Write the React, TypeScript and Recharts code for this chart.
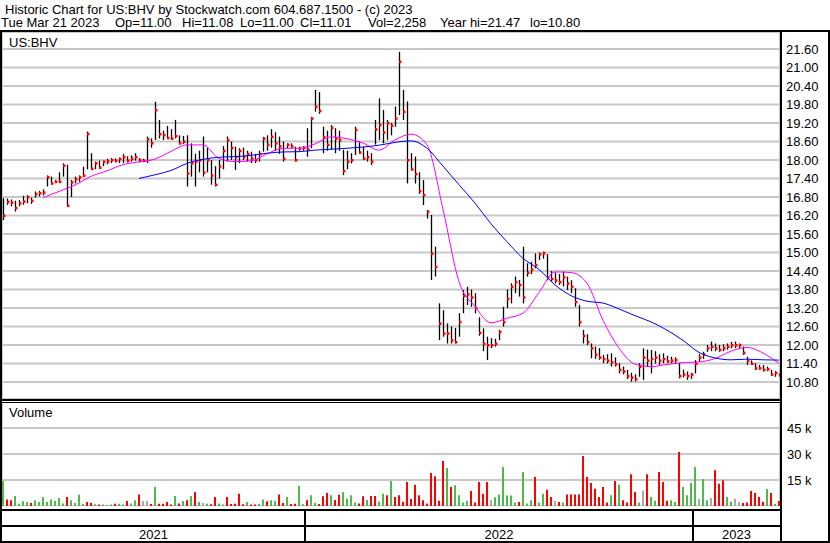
import { ComposedChart, Bar, Line, XAxis, YAxis, CartesianGrid, Cell } from "recharts";

// sampled every ~2.5 trading days, Mar 2021 .. Mar 21 2023
const highs = [
  16.76, 16.75, 16.72, 16.68, 16.7, 16.84, 16.86, 16.78,
  16.98, 17.0, 17.05, 17.5, 17.46, 17.35, 17.6, 17.89,
  17.85, 17.35, 17.46, 17.5, 17.78, 18.92, 18.22, 17.95,
  17.98, 17.98, 18.04, 18.06, 18.05, 18.08, 18.2, 18.12,
  18.15, 18.22, 18.06, 18.04, 18.76, 18.7, 19.89, 19.3,
  18.95, 19.1, 19.0, 19.3, 18.8, 18.78, 18.8, 18.54,
  18.2, 18.3, 18.76, 18.4, 18.0, 17.8, 18.0, 18.45,
  18.76, 18.6, 18.43, 18.38, 18.4, 18.3, 18.27, 18.2,
  18.3, 18.75, 18.8, 19.0, 18.9, 18.76, 18.6, 18.54,
  18.54, 18.43, 18.43, 18.45, 19.03, 19.4, 20.27, 20.2,
  19.08, 18.95, 19.13, 19.03, 18.95, 18.33, 18.3, 18.22,
  19.08, 18.6, 18.43, 18.3, 18.22, 19.3, 20.0, 19.62,
  19.3, 19.2, 19.73, 21.51, 20.27, 19.9, 18.22, 18.11,
  17.6, 17.35, 16.38, 16.22, 15.19, 13.35, 13.13, 12.7,
  12.6, 12.55, 13.03, 13.78, 13.89, 13.8, 13.68, 12.9,
  12.54, 12.27, 12.22, 12.2, 12.49, 13.24, 13.8, 14.0,
  14.22, 14.11, 15.19, 14.65, 14.7, 14.97, 15.0, 15.03,
  14.95, 14.4, 14.35, 14.3, 14.38, 14.22, 14.1, 13.84,
  13.3, 12.49, 12.35, 12.05, 11.95, 11.9, 11.68, 11.7,
  11.73, 11.6, 11.41, 11.3, 11.19, 11.1, 11.05, 11.41,
  11.89, 11.85, 11.84, 11.8, 11.7, 11.73, 11.65, 11.62,
  11.6, 11.41, 11.2, 11.14, 11.1, 11.51, 11.7, 11.78,
  12.0, 12.11, 12.05, 12.0, 12.02, 12.05, 12.1, 12.11,
  12.05, 11.95, 11.62, 11.5, 11.41, 11.35, 11.35, 11.3,
  11.19, 11.15, 11.08,
];

const lows = [
  16.05, 16.55, 16.5, 16.33, 16.5, 16.55, 16.6, 16.58,
  16.78, 16.82, 16.85, 17.14, 17.2, 17.25, 17.25, 17.46,
  16.5, 16.8, 17.24, 17.3, 17.45, 17.7, 17.68, 17.7,
  17.72, 17.8, 17.86, 17.9, 17.92, 17.9, 17.9, 17.92,
  17.95, 17.98, 17.92, 17.93, 17.9, 18.4, 18.65, 18.7,
  18.65, 18.68, 18.65, 18.7, 18.5, 18.52, 17.14, 17.46,
  17.14, 17.6, 17.46, 17.6, 17.2, 17.14, 17.4, 17.7,
  17.95, 18.0, 17.68, 17.9, 18.0, 17.95, 17.9, 17.9,
  17.95, 18.27, 18.3, 18.4, 18.3, 18.2, 17.95, 18.38,
  18.4, 17.95, 18.3, 18.3, 18.11, 18.38, 19.57, 19.5,
  18.22, 18.3, 18.33, 18.22, 18.3, 17.51, 17.7, 17.89,
  18.16, 18.2, 18.0, 17.95, 17.84, 18.5, 18.65, 18.54,
  18.65, 18.8, 19.08, 19.46, 19.3, 17.24, 17.68, 17.24,
  16.9, 16.54, 16.1, 14.11, 14.22, 12.16, 12.27, 12.05,
  12.05, 12.05, 12.27, 13.03, 13.3, 13.24, 13.03, 12.3,
  11.8, 11.51, 11.9, 11.95, 12.16, 12.6, 13.2, 13.35,
  13.68, 13.57, 13.35, 14.22, 14.3, 14.49, 14.76, 14.8,
  14.11, 14.05, 14.0, 13.95, 13.9, 13.78, 13.68, 13.24,
  12.6, 12.05, 12.0, 11.57, 11.55, 11.52, 11.41, 11.4,
  11.3, 11.3, 11.08, 11.05, 10.9, 10.81, 10.82, 10.97,
  10.87, 11.3, 11.08, 11.4, 11.35, 11.41, 11.42, 11.41,
  11.42, 10.92, 10.95, 10.87, 10.9, 11.08, 11.46, 11.55,
  11.78, 11.8, 11.8, 11.78, 11.8, 11.85, 11.89, 11.9,
  11.9, 11.68, 11.35, 11.35, 11.19, 11.2, 11.14, 11.15,
  11.0, 10.97, 11.0,
];

const closes = [
  16.2, 16.65, 16.62, 16.45, 16.6, 16.66, 16.8, 16.68,
  16.9, 16.93, 16.95, 17.45, 17.25, 17.3, 17.3, 17.82,
  16.52, 17.28, 17.38, 17.45, 17.5, 18.85, 17.72, 17.9,
  17.76, 17.95, 17.96, 18.0, 17.98, 18.04, 18.1, 17.98,
  18.05, 18.1, 18.0, 17.98, 18.68, 18.55, 19.62, 18.84,
  18.82, 18.72, 18.7, 18.78, 18.55, 18.6, 17.57, 17.9,
  17.95, 18.0, 17.6, 18.0, 17.5, 17.2, 17.8, 18.3,
  18.65, 18.4, 18.1, 18.3, 18.1, 18.2, 18.06, 18.0,
  18.2, 18.7, 18.5, 18.76, 18.55, 18.45, 18.05, 18.5,
  18.45, 18.0, 18.38, 18.4, 18.35, 19.35, 19.73, 19.6,
  18.75, 18.5, 19.05, 18.7, 18.65, 17.65, 17.95, 18.0,
  18.98, 18.25, 18.05, 18.1, 17.95, 19.0, 19.14, 18.9,
  19.2, 19.12, 19.35, 21.19, 19.57, 18.0, 17.7, 17.55,
  17.0, 16.87, 16.33, 14.97, 14.54, 12.7, 12.38, 12.38,
  12.16, 12.1, 12.75, 13.6, 13.65, 13.55, 13.2, 12.4,
  12.05, 12.0, 12.0, 12.05, 12.43, 12.75, 13.5, 13.9,
  14.05, 13.95, 13.55, 14.35, 14.45, 14.6, 14.95, 14.98,
  14.2, 14.15, 14.1, 14.05, 14.2, 14.0, 13.9, 13.4,
  12.75, 12.3, 12.1, 11.9, 11.7, 11.6, 11.55, 11.5,
  11.45, 11.38, 11.2, 11.15, 11.0, 10.95, 10.9, 11.3,
  11.6, 11.5, 11.55, 11.6, 11.5, 11.55, 11.48, 11.5,
  11.52, 11.0, 11.05, 11.0, 11.05, 11.4, 11.6, 11.7,
  11.9, 11.95, 11.9, 11.85, 11.9, 11.95, 12.0, 12.0,
  12.0, 11.75, 11.5, 11.4, 11.25, 11.25, 11.2, 11.22,
  11.05, 11.1, 11.01,
];

// volume in thousands of shares
const volumes = [
  14.4, 3.8, 3.3, 5.8, 1.3, 2.7, 2.3, 1.7,
  3.3, 2.3, 5.2, 2.3, 3.8, 2.9, 4.6, 1.5,
  5.2, 3.3, 1.7, 6.5, 1.2, 2.3, 1.7, 1.0,
  0.8, 0.8, 0.6, 0.8, 1.3, 1.3, 0.9, 2.9,
  1.5, 3.3, 6.7, 2.9, 2.9, 1.2, 11.0, 1.3,
  1.3, 2.3, 0.8, 5.8, 1.5, 2.9, 3.3, 5.8,
  8.1, 2.3, 1.7, 1.3, 1.0, 5.2, 1.4, 0.9,
  5.2, 1.2, 1.3, 7.1, 1.0, 2.3, 0.8, 0.9,
  1.2, 3.8, 2.7, 3.3, 2.9, 6.7, 1.7, 5.2,
  1.2, 1.3, 11.5, 1.0, 3.3, 6.2, 1.8, 1.2,
  5.6, 7.5, 6.2, 3.5, 6.5, 8.1, 4.2, 6.2,
  2.0, 1.5, 5.6, 3.5, 5.8, 5.8, 2.5, 7.1,
  6.2, 14.4, 5.2, 6.2, 2.5, 13.8, 4.0, 12.3,
  6.2, 3.3, 1.5, 19.0, 17.1, 3.0, 26.0, 21.9,
  11.0, 11.9, 6.2, 2.0, 3.0, 8.7, 2.0, 13.8,
  7.1, 13.8, 3.5, 5.0, 6.7, 22.5, 6.0, 6.0,
  2.0, 2.3, 19.6, 1.5, 3.3, 16.7, 2.0, 7.1,
  9.4, 5.2, 2.9, 2.3, 2.0, 6.7, 6.7, 6.7,
  6.7, 28.8, 16.7, 13.3, 10.0, 5.2, 11.0, 2.0,
  6.2, 14.4, 12.3, 3.3, 2.0, 18.3, 8.1, 2.0,
  9.0, 18.3, 5.2, 3.0, 19.6, 13.8, 3.0, 3.3,
  2.3, 31.2, 11.0, 6.2, 13.3, 22.5, 4.0, 15.6,
  3.3, 4.6, 20.6, 12.9, 14.8, 5.2, 2.5, 4.2,
  2.3, 1.7, 2.0, 8.7, 7.5, 5.2, 2.5, 9.8,
  7.5, 1.3, 2.9,
];

// u = up day (green), d = down day (red), n = unchanged (grey)
const volDir = (
  "udduuuuduu" + "uuuuuuduuu" + "udduduuudu" + "uduudnndud" + "dddudududu" +
  "nudduudddd" + "dudduuduud" + "dudduuduud" + "ddudduuuud" + "dudduududd" +
  "dddddddddd" + "duduuuuddd" + "ddnuuuuuud" + "uuuduuddnd" + "uddddddddd" +
  "ddududdddu" + "nduuddduud" + "uuuunuundd" + "duunnddddd" + "dudud"
).split("");

// moving averages, one value every 4th sample (starting at sample 2)
const fastMa = [
  null, null, 16.78, 16.98, 17.19, 17.47, 17.65, 17.85, 17.94, 18.03,
  18.28, 18.49, 18.49, 18.05, 17.95, 17.97, 18.2, 18.38, 18.38, 18.52,
  18.75, 18.69, 18.55, 18.32, 18.65, 18.84, 18.49, 16.4, 14.05, 13.25,
  12.72, 12.87, 13.03, 13.7, 14.37, 14.35, 14.0, 12.8, 11.9, 11.38,
  11.3, 11.37, 11.43, 11.45, 11.56, 11.8, 11.92, 11.74, 11.4,
];
const slowMa = [
  null, null, null, null, null, null, null, null, 17.4, 17.52,
  17.66, 17.89, 18.02, 18.09, 18.11, 18.15, 18.22, 18.26, 18.27, 18.32,
  18.35, 18.38, 18.42, 18.48, 18.57, 18.62, 18.38, 17.8, 17.2, 16.6,
  15.93, 15.35, 14.81, 14.45, 13.95, 13.6, 13.42, 13.36, 13.17, 12.95,
  12.75, 12.48, 12.15, 11.76, 11.58, 11.52, 11.54, 11.52, 11.51,
];

// month starts, in sample units
const monthTicks = [
  2.5, 10.25, 18.5, 26.75, 34.75, 43.25, 51.25, 59.25, 67.5, 75.5, 83.5, 91.5,
  99.5, 107.5, 116, 124, 132, 140.5, 148.5, 156.5, 164.75, 172.5, 181, 188.75,
];

const priceTicks = [10.8, 11.4, 12.0, 12.6, 13.2, 13.8, 14.4, 15.0, 15.6, 16.2, 16.8, 17.4, 18.0, 18.6, 19.2, 19.8, 20.4, 21.0, 21.6];
const volTicks = [15, 30, 45];
const years = [
  { label: "2021", from: -0.25, to: 75.5 },
  { label: "2022", from: 75.5, to: 172.5 },
  { label: "2023", from: 172.5, to: 194.25 },
];

// quote line fields and where each one starts
const quoteFields = [
  { text: "Tue Mar 21 2023", left: 1 },
  { text: "Op=11.00", left: 115 },
  { text: "Hi=11.08", left: 182 },
  { text: "Lo=11.00", left: 240 },
  { text: "Cl=11.01", left: 300 },
  { text: "Vol=2,258", left: 368 },
  { text: "Year hi=21.47", left: 440 },
  { text: "lo=10.80", left: 530 },
];

const rows = highs.map((h, i) => ({
  i,
  hl: [lows[i], h],
  close: closes[i],
  vol: volumes[i],
  dir: volDir[i],
  fast: i % 4 === 2 ? fastMa[(i - 2) / 4] : null,
  slow: i % 4 === 2 ? slowMa[(i - 2) / 4] : null,
}));

const FONT = "'Liberation Sans', Arial, sans-serif";
const X_DOMAIN = [-0.25, 194.25];
const PX = 4; // px per sample
const xPos = (v: number) => 2 + (v - X_DOMAIN[0]) * PX;

const OhlcBar = (props: any) => {
  const { x, y, width, height, payload } = props;
  const top = Math.min(y, y + height);
  const h = Math.abs(height);
  const [lo, hi] = payload.hl;
  const cy = hi === lo ? top : top + ((hi - payload.close) / (hi - lo)) * h;
  const cx = Math.round(x + width / 2) + 0.5;
  return (
    <g>
      <line x1={cx} x2={cx} y1={top} y2={top + h} stroke="#000" strokeWidth={1.3} />
      <rect x={cx - 0.5} y={cy - 1} width={2.5} height={2.5} fill="#ff0000" />
    </g>
  );
};

const dirColor = (d: string) => (d === "u" ? "#4cbb4c" : d === "d" ? "#ff0000" : "#aaaaaa");

const hline = (top: number, h: number, left = 0, width = 830) => (
  <div style={{ position: "absolute", left, top, width, height: h, background: "#000" }} />
);
const vline = (left: number, top: number, h: number, w = 2) => (
  <div style={{ position: "absolute", left, top, width: w, height: h, background: "#000" }} />
);

const monthAxis = (
  <XAxis
    dataKey="i"
    type="number"
    domain={X_DOMAIN}
    ticks={monthTicks}
    interval={0}
    allowDataOverflow
    height={0}
    tick={false}
    tickLine={false}
    axisLine={false}
  />
);

export default function App() {
  return (
    <div style={{ position: "absolute", left: 0, top: 0, width: 830, height: 543, background: "#fff", fontFamily: FONT, color: "#000", overflow: "hidden" }}>
      <div style={{ position: "absolute", left: 5, top: 4, fontSize: 13, lineHeight: "12px", whiteSpace: "pre" }}>
        Historic Chart for US:BHV by Stockwatch.com 604.687.1500 - (c) 2023
      </div>
      {quoteFields.map((f) => (
        <div key={f.text} style={{ position: "absolute", left: f.left, top: 17, fontSize: 13, lineHeight: "12px", whiteSpace: "pre" }}>
          {f.text}
        </div>
      ))}

      <div style={{ position: "absolute", left: 0, top: 32 }}>
        <ComposedChart width={830} height={367} data={rows} margin={{ top: 0, right: 0, bottom: 0, left: 2 }}>
          <CartesianGrid stroke="#c8c8c8" strokeWidth={2} />
          {monthAxis}
          <YAxis
            orientation="right"
            width={50}
            type="number"
            domain={[10.249, 22.151]}
            ticks={priceTicks}
            interval={0}
            allowDataOverflow
            axisLine={false}
            tickLine={false}
            tickSize={4}
            tickMargin={2}
            tick={{ fill: "#000", fontSize: 13, fontFamily: FONT }}
            tickFormatter={(v: number) => v.toFixed(2)}
          />
          <Bar dataKey="hl" barSize={1} shape={OhlcBar} isAnimationActive={false} />
          <Line dataKey="fast" type="monotone" stroke="#ff00ff" strokeWidth={1} dot={false} connectNulls isAnimationActive={false} />
          <Line dataKey="slow" type="monotone" stroke="#0000ff" strokeWidth={1} dot={false} connectNulls isAnimationActive={false} />
        </ComposedChart>
      </div>

      <div style={{ position: "absolute", left: 0, top: 402 }}>
        <ComposedChart width={830} height={104} data={rows} margin={{ top: 0, right: 0, bottom: 0, left: 2 }}>
          <CartesianGrid stroke="#c8c8c8" strokeWidth={2} />
          {monthAxis}
          <YAxis
            orientation="right"
            width={50}
            type="number"
            domain={[0, 60]}
            ticks={volTicks}
            interval={0}
            axisLine={false}
            tickLine={false}
            tickSize={4}
            tickMargin={3}
            tick={{ fill: "#000", fontSize: 13, fontFamily: FONT }}
            tickFormatter={(v: number) => `${v} k`}
          />
          <Bar dataKey="vol" barSize={2} isAnimationActive={false}>
            {rows.map((r) => (
              <Cell key={r.i} fill={dirColor(r.dir)} />
            ))}
          </Bar>
        </ComposedChart>
      </div>

      <div style={{ position: "absolute", left: 9, top: 35, fontSize: 13, lineHeight: "15px" }}>US:BHV</div>
      <div style={{ position: "absolute", left: 9, top: 405, fontSize: 13, lineHeight: "15px" }}>Volume</div>

      {years.map((y) => (
        <div
          key={y.label}
          style={{ position: "absolute", left: xPos(y.from), width: xPos(y.to) - xPos(y.from), top: 527, height: 14, lineHeight: "15px", fontSize: 13, textAlign: "center" }}
        >
          {y.label}
        </div>
      ))}

      {hline(30, 2)}
      {hline(399, 2, 0, 782)}
      {hline(402, 1, 0, 782)}
      {hline(509, 2, 0, 782)}
      {hline(525, 2, 0, 782)}
      {hline(541, 2)}
      {vline(0, 30, 513)}
      {vline(780, 30, 513)}
      {vline(828, 30, 513)}
      {vline(xPos(75.5) - 1, 509, 33)}
      {vline(xPos(172.5) - 1, 509, 33)}
    </div>
  );
}
